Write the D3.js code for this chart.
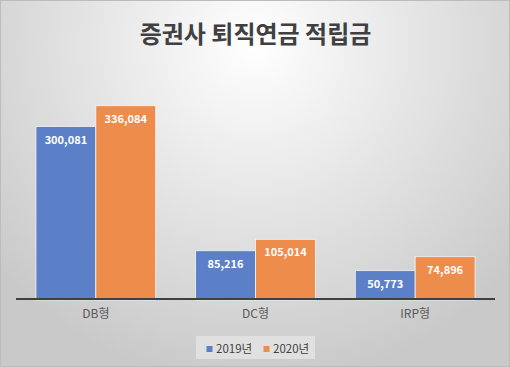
<!DOCTYPE html>
<html><head><meta charset="utf-8">
<script src="https://cdn.jsdelivr.net/npm/d3@7"></script>
<style>
html,body{margin:0;padding:0;background:#fff;}
svg{display:block;}
text{font-family:"Noto Sans CJK KR","Noto Sans",sans-serif;}
</style></head>
<body>
<div id="chart"></div>
<script>
const title = "증권사 퇴직연금 적립금";
const categories = ["DB형", "DC형", "IRP형"];
const seriesNames = ["2019년", "2020년"];
const values2019 = [300081, 85216, 50773];
const values2020 = [336084, 105014, 74896];
const seriesColors = ["#5B80C8", "#EE8C4C"];

const W = 510, H = 367;
const svg = d3.select("#chart").append("svg").attr("width", W).attr("height", H);
const defs = svg.append("defs");
const grad = defs.append("radialGradient").attr("id","bg")
  .attr("gradientUnits","userSpaceOnUse").attr("cx",255).attr("cy",45).attr("r",340);
grad.append("stop").attr("offset","0").attr("stop-color","#ffffff");
grad.append("stop").attr("offset","1").attr("stop-color","#c9c9c9");
svg.append("rect").attr("x",0.5).attr("y",0.5).attr("width",W-1).attr("height",H-1)
  .attr("fill","url(#bg)").attr("stroke","#bcbcbc").attr("stroke-width",1);

svg.append("text").attr("x",255.5).attr("y",43).attr("text-anchor","middle")
  .attr("font-size",24).attr("font-weight","bold").attr("fill","#404040").text(title);

const x0 = d3.scaleBand().domain(categories).range([16,495]).paddingInner(0.25).paddingOuter(0.125);
const x1 = d3.scaleBand().domain(seriesNames).range([0, x0.bandwidth()]);
const y = d3.scaleLinear().domain([0,400000]).range([300, 68.8]);

const data = categories.map((c,i)=>({cat:c, vals:[values2019[i], values2020[i]]}));
const g = svg.append("g");
const groups = g.selectAll("g.grp").data(data).join("g").attr("class","grp")
  .attr("transform", d=>`translate(${x0(d.cat)},0)`);
groups.selectAll("rect").data(d=>d.vals.map((v,j)=>({v, s:seriesNames[j], j})))
  .join("rect")
  .attr("x", d=>x1(d.s)).attr("width", x1.bandwidth())
  .attr("y", d=>y(d.v)).attr("height", d=>y(0)-y(d.v))
  .attr("fill", d=>seriesColors[d.j]).attr("stroke","#f4f4f4").attr("stroke-width",0.8);
const fmt = d3.format(",");
groups.selectAll("text.lbl").data(d=>d.vals.map((v,j)=>({v, s:seriesNames[j], j})))
  .join("text").attr("class","lbl")
  .attr("x", d=>x1(d.s)+x1.bandwidth()/2).attr("y", d=>y(d.v)+17)
  .attr("text-anchor","middle").attr("font-size",11).attr("font-weight","bold")
  .attr("fill","#ffffff").text(d=>fmt(d.v));

// axis
const xAxis = d3.axisBottom(x0).tickSize(0).tickPadding(10);
const ax = svg.append("g").attr("transform","translate(0,299)").call(xAxis);
ax.select(".domain").attr("stroke","#404040").attr("stroke-width",2).attr("d","M16,0H495");
ax.selectAll("text").attr("font-size",12).attr("fill","#595959")
  .style("font-family",'"Noto Sans CJK KR","Noto Sans",sans-serif');

// legend
svg.append("rect").attr("x",196).attr("y",336).attr("width",119).attr("height",23).attr("fill","#e0e0e0");
const leg = svg.append("g");
const legX = [206.5, 263.5];
seriesNames.forEach((s,i)=>{
  leg.append("rect").attr("x",legX[i]).attr("y",346).attr("width",6).attr("height",6).attr("fill",seriesColors[i]);
  leg.append("text").attr("x",legX[i]+9.5).attr("y",352.5).attr("font-size",11.5).attr("fill","#404040").text(s);
});
</script>
</body></html>
